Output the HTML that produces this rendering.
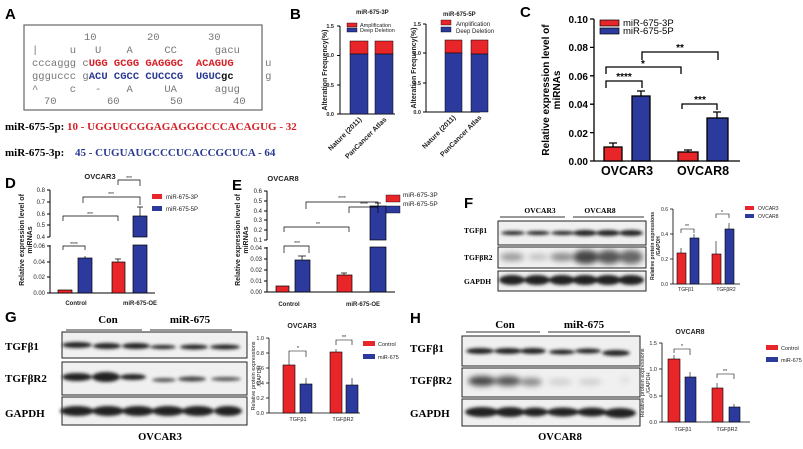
<!DOCTYPE html><html><head><meta charset="utf-8"><style>
body{margin:0;background:#fff}svg{display:block}
text{font-family:"Liberation Sans",sans-serif}
.m{font-family:"Liberation Mono",monospace;font-size:10.5px;fill:#777}
.s,.s text{font-family:"Liberation Serif",serif;font-weight:bold}
</style></head><body>
<svg width="803" height="449" viewBox="0 0 803 449" xmlns="http://www.w3.org/2000/svg">
<defs><filter id="b" x="-20%" y="-100%" width="140%" height="300%"><feGaussianBlur stdDeviation="1.6"/></filter>
<filter id="b2" x="-20%" y="-100%" width="140%" height="300%"><feGaussianBlur stdDeviation="3"/></filter></defs>
<g font-weight="bold" font-size="15">
<text x="5" y="19">A</text><text x="290" y="19">B</text><text x="520" y="17">C</text>
<text x="5" y="188">D</text><text x="232" y="190">E</text><text x="464" y="208">F</text>
<text x="5" y="322">G</text><text x="410" y="323">H</text></g>
<!-- A -->
<rect x="24" y="25" width="238" height="85" fill="none" stroke="#666" stroke-width="1.2"/>
<text class="m" x="84" y="40">10</text><text class="m" x="147" y="40">20</text><text class="m" x="208" y="40">30</text>
<text class="m" x="32" y="53" xml:space="preserve">|     u   U    A     CC      gacu</text>
<text class="m" x="32" y="66" xml:space="preserve">cccaggg c<tspan fill="#d62027" font-weight="bold">UGG GCGG GAGGGC  ACAGUG</tspan>     u</text>
<text class="m" x="32" y="79" xml:space="preserve">ggguccc g<tspan fill="#2b3990" font-weight="bold">ACU CGCC CUCCCG  UGUC</tspan><tspan fill="#111" font-weight="bold">gc</tspan>     g</text>
<text class="m" x="32" y="92" xml:space="preserve">^     c   -    A     UA      agug</text>
<text class="m" x="44" y="104" xml:space="preserve">70        60        50        40</text>
<text class="s" x="5" y="130" font-size="11">miR-675-5p:</text>
<text class="s" x="67" y="130" font-size="11" fill="#d62027">10 - UGGUGCGGAGAGGGCCCACAGUG - 32</text>
<text class="s" x="5" y="156" font-size="11">miR-675-3p:</text>
<text class="s" x="75" y="156" font-size="11" fill="#2b3990">45 - CUGUAUGCCCUCACCGCUCA - 64</text>
<!-- B1 -->
<g font-size="5.5" fill="#222">
<text x="356" y="14" font-weight="bold" font-size="6">miR-675-3P</text>
<path d="M340 26V114H395M337 26H340M337 55.5H340M337 85H340M337 114H340" stroke="#000" fill="none"/>
<text x="334" y="28" text-anchor="end" font-weight="bold">1.5</text><text x="334" y="57" text-anchor="end" font-weight="bold">1.0</text><text x="334" y="87" text-anchor="end" font-weight="bold">0.5</text><text x="334" y="116" text-anchor="end" font-weight="bold">0.0</text>
<text transform="translate(327,70) rotate(-90)" text-anchor="middle" font-size="7" font-weight="bold">Alteration Frequency(%)</text>
<rect x="347" y="23" width="10" height="4" fill="#e8262a" stroke="#000" stroke-width=".4"/><rect x="347" y="28" width="10" height="4" fill="#2b3a9c" stroke="#000" stroke-width=".4"/>
<text x="360" y="27">Amplification</text><text x="360" y="32">Deep Deletion</text>
<rect x="350" y="41" width="18" height="13" fill="#e8262a" stroke="#000" stroke-width=".5"/><rect x="350" y="54" width="18" height="60" fill="#2b3a9c" stroke="#000" stroke-width=".5"/>
<rect x="375" y="41" width="18" height="13" fill="#e8262a" stroke="#000" stroke-width=".5"/><rect x="375" y="54" width="18" height="60" fill="#2b3a9c" stroke="#000" stroke-width=".5"/>
<text transform="translate(362,120) rotate(-45)" text-anchor="end" font-size="7" font-weight="bold">Nature (2011)</text>
<text transform="translate(387,120) rotate(-45)" text-anchor="end" font-size="7" font-weight="bold">PanCancer Atlas</text>
</g>
<!-- B2 -->
<g font-size="5.5" fill="#222">
<text x="443" y="16" font-weight="bold" font-size="6">miR-675-5P</text>
<path d="M426 24V112H480M423 24H426M423 53H426M423 83H426M423 112H426" stroke="#000" fill="none"/>
<text x="421" y="26" text-anchor="end" font-weight="bold">1.5</text><text x="421" y="55" text-anchor="end" font-weight="bold">1.0</text><text x="421" y="85" text-anchor="end" font-weight="bold">0.5</text><text x="421" y="114" text-anchor="end" font-weight="bold">0.0</text>
<text transform="translate(416,68) rotate(-90)" text-anchor="middle" font-size="7" font-weight="bold">Alteration Frequency(%)</text>
<rect x="441" y="20" width="10" height="5" fill="#e8262a" stroke="#000" stroke-width=".4"/><rect x="441" y="27" width="10" height="5" fill="#2b3a9c" stroke="#000" stroke-width=".4"/>
<text x="456" y="26" font-size="6">Amplification</text><text x="456" y="33" font-size="6">Deep Deletion</text>
<rect x="445" y="40" width="17" height="13" fill="#e8262a" stroke="#000" stroke-width=".5"/><rect x="445" y="53" width="17" height="59" fill="#2b3a9c" stroke="#000" stroke-width=".5"/>
<rect x="471" y="40" width="17" height="14" fill="#e8262a" stroke="#000" stroke-width=".5"/><rect x="471" y="54" width="17" height="58" fill="#2b3a9c" stroke="#000" stroke-width=".5"/>
<text transform="translate(456,118) rotate(-45)" text-anchor="end" font-size="7" font-weight="bold">Nature (2011)</text>
<text transform="translate(482,118) rotate(-45)" text-anchor="end" font-size="7" font-weight="bold">PanCancer Atlas</text>
</g>
<!-- C -->
<g font-weight="bold" font-size="10">
<path d="M594 19V161H740M590 19H594M590 47.4H594M590 75.8H594M590 104.2H594M590 132.6H594M590 161H594" stroke="#000" stroke-width="1.3" fill="none"/>
<text x="588" y="23" text-anchor="end">0.10</text><text x="588" y="51" text-anchor="end">0.08</text><text x="588" y="80" text-anchor="end">0.06</text><text x="588" y="108" text-anchor="end">0.04</text><text x="588" y="137" text-anchor="end">0.02</text><text x="588" y="165" text-anchor="end">0.00</text>
<text transform="translate(549,90) rotate(-90)" text-anchor="middle" font-size="10">Relative expression level of</text>
<text transform="translate(560,90) rotate(-90)" text-anchor="middle" font-size="10">miRNAs</text>
<rect x="600" y="20" width="19" height="6" fill="#e8262a" stroke="#000" stroke-width=".7"/><rect x="600" y="28" width="19" height="6" fill="#2b3a9c" stroke="#000" stroke-width=".7"/>
<text x="623" y="26" font-weight="normal" font-size="9.5">miR-675-3P</text><text x="623" y="34" font-weight="normal" font-size="9.5">miR-675-5P</text>
<g stroke="#000" stroke-width="1.3" fill="none">
<rect x="604" y="147" width="18" height="14" fill="#e8262a"/><rect x="632" y="96" width="18" height="65" fill="#2b3a9c"/>
<rect x="678" y="152" width="20" height="9" fill="#e8262a"/><rect x="707" y="118" width="21" height="43" fill="#2b3a9c"/>
<path d="M613 147V143M609 143H617M641 96V91M637 91H645M688 152V150M684 150H692M717 118V112M713 112H721"/>
<path d="M606 88V81H642V88M606 74V67H681V74M642 60V52H718V60M682 109V104H717V110"/></g>
<text x="624" y="80" text-anchor="middle">****</text><text x="643" y="67" text-anchor="middle">*</text><text x="680" y="51" text-anchor="middle">**</text><text x="700" y="103" text-anchor="middle">***</text>
<text x="627" y="175" text-anchor="middle" font-size="12.5">OVCAR3</text><text x="703" y="175" text-anchor="middle" font-size="12.5">OVCAR8</text>
</g>
<!-- D -->
<g font-size="6" fill="#222">
<text x="100" y="179" text-anchor="middle" font-weight="bold" font-size="7.5">OVCAR3</text>
<path d="M50 190V237M50 245V293H155M47 190H50M47 202H50M47 214H50M47 225H50M47 237H50M47 246H50M47 262H50M47 277H50M47 293H50" stroke="#000" fill="none"/>
<g text-anchor="end"><text x="45" y="192">0.8</text><text x="45" y="204">0.7</text><text x="45" y="216">0.6</text><text x="45" y="227">0.5</text><text x="45" y="239">0.4</text><text x="45" y="248">0.06</text><text x="45" y="264">0.04</text><text x="45" y="279">0.02</text><text x="45" y="295">0.00</text></g>
<text transform="translate(24,240) rotate(-90)" text-anchor="middle" font-size="7" font-weight="bold">Relative expression level of</text>
<text transform="translate(32,240) rotate(-90)" text-anchor="middle" font-size="7" font-weight="bold">miRNAs</text>
<g stroke="#000" stroke-width=".7" fill="none">
<rect x="58" y="290" width="14" height="3" fill="#e8262a"/><rect x="78" y="258" width="14" height="35" fill="#2b3a9c"/>
<rect x="112" y="262" width="13" height="31" fill="#e8262a"/><rect x="133" y="245" width="14" height="48" fill="#2b3a9c"/><rect x="133" y="216" width="14" height="21" fill="#2b3a9c"/>
<path d="M85 258V256M118 262V259M115 259H121M140 216V207M137 207H143"/>
<path d="M63 250V246H85V250M63 221V216H118V221M83 203V197H140V205M118 185V180H140V186"/></g>
<g font-size="5"><text x="74" y="246" text-anchor="middle">****</text><text x="90" y="216" text-anchor="middle">***</text><text x="111" y="196" text-anchor="middle">***</text><text x="129" y="180" text-anchor="middle">***</text></g>
<rect x="152" y="194" width="10" height="5" fill="#e8262a"/><rect x="152" y="206" width="10" height="5" fill="#2b3a9c"/>
<text x="166" y="199">miR-675-3P</text><text x="166" y="211">miR-675-5P</text>
<text x="76" y="305" text-anchor="middle" font-weight="bold">Control</text><text x="140" y="305" text-anchor="middle" font-weight="bold">miR-675-OE</text>
</g>
<!-- E -->
<g font-size="6" fill="#222">
<text x="283" y="181" text-anchor="middle" font-weight="bold" font-size="7.5">OVCAR8</text>
<path d="M267 191V240M267 247V292H395M264 191H267M264 201H267M264 211H267M264 220H267M264 230H267M264 240H267M264 248H267M264 259H267M264 270H267M264 281H267M264 292H267" stroke="#000" fill="none"/>
<g text-anchor="end"><text x="262" y="193">0.6</text><text x="262" y="203">0.5</text><text x="262" y="213">0.4</text><text x="262" y="222">0.3</text><text x="262" y="232">0.2</text><text x="262" y="242">0.1</text><text x="262" y="250">0.04</text><text x="262" y="261">0.03</text><text x="262" y="272">0.02</text><text x="262" y="283">0.01</text><text x="262" y="294">0.00</text></g>
<text transform="translate(240,240) rotate(-90)" text-anchor="middle" font-size="7" font-weight="bold">Relative expression level of</text>
<text transform="translate(248,240) rotate(-90)" text-anchor="middle" font-size="7" font-weight="bold">miRNAs</text>
<g stroke="#000" stroke-width=".7" fill="none">
<rect x="276" y="286" width="13" height="6" fill="#e8262a"/><rect x="295" y="260" width="15" height="32" fill="#2b3a9c"/>
<rect x="337" y="275" width="15" height="17" fill="#e8262a"/><rect x="370" y="247" width="16" height="45" fill="#2b3a9c"/><rect x="370" y="206" width="16" height="34" fill="#2b3a9c"/>
<path d="M302 260V256M298 256H306M344 275V273M341 273H347M378 206V203M375 203H381"/>
<path d="M284 253V246H309V253M284 232V227H349V232M306 209V202H378V210M349 213V207H378V213"/></g>
<g font-size="5"><text x="297" y="245" text-anchor="middle">***</text><text x="318" y="226" text-anchor="middle">**</text><text x="342" y="200" text-anchor="middle">****</text><text x="364" y="206" text-anchor="middle">****</text></g>
<rect x="386" y="195" width="14" height="7" fill="#e8262a" stroke="#000" stroke-width=".4"/><rect x="386" y="206" width="14" height="7" fill="#2b3a9c" stroke="#000" stroke-width=".4"/>
<text x="403" y="197" font-size="6.5">miR-675-3P</text><text x="403" y="206" font-size="6.5">miR-675-5P</text>
<text x="289" y="306" text-anchor="middle" font-weight="bold">Control</text><text x="363" y="306" text-anchor="middle" font-weight="bold">miR-675-OE</text>
</g>
<!-- F blot -->
<g class="s" font-size="7.5">
<text x="540" y="213" text-anchor="middle">OVCAR3</text><text x="600" y="213" text-anchor="middle">OVCAR8</text>
<path d="M500 217H565M573 217H644" stroke="#333"/>
<text x="464" y="233">TGFβ1</text><text x="464" y="260">TGFβR2</text><text x="464" y="284">GAPDH</text></g>
<g stroke="#222" stroke-width="1" fill="#f0f0f0">
<rect x="498" y="221" width="148" height="24"/><rect x="498" y="247" width="148" height="21"/><rect x="498" y="271" width="148" height="20"/></g>
<g fill="#222" filter="url(#b)">
<ellipse cx="513" cy="233" rx="12" ry="2"/><ellipse cx="538" cy="233" rx="12" ry="2"/><ellipse cx="563" cy="233" rx="12" ry="2"/><ellipse cx="585" cy="233" rx="12" ry="3"/><ellipse cx="608" cy="233" rx="12" ry="3"/><ellipse cx="631" cy="233" rx="12" ry="3"/>
<ellipse cx="512" cy="280" rx="13" ry="5"/><ellipse cx="537" cy="280" rx="13" ry="5"/><ellipse cx="562" cy="280" rx="13" ry="5"/><ellipse cx="585" cy="280" rx="13" ry="5"/><ellipse cx="608" cy="280" rx="13" ry="5"/><ellipse cx="631" cy="280" rx="13" ry="5"/></g>
<g filter="url(#b2)"><ellipse cx="512" cy="257" rx="12" ry="4" fill="#999"/><ellipse cx="538" cy="257" rx="10" ry="3" fill="#bbb"/><ellipse cx="562" cy="257" rx="12" ry="4" fill="#888"/><ellipse cx="586" cy="257" rx="13" ry="7" fill="#444"/><ellipse cx="609" cy="257" rx="12" ry="7" fill="#555"/><ellipse cx="631" cy="257" rx="12" ry="7" fill="#666"/></g>
<!-- F chart -->
<g font-size="5" fill="#222">
<path d="M673 209V284H740M670 209H673M670 234H673M670 259H673M670 284H673" stroke="#000" stroke-width=".8" fill="none"/>
<text x="668" y="211" text-anchor="end">0.6</text><text x="668" y="236" text-anchor="end">0.4</text><text x="668" y="261" text-anchor="end">0.2</text><text x="668" y="286" text-anchor="end">0.0</text>
<text transform="translate(654,246) rotate(-90)" text-anchor="middle" font-weight="bold">Relative protein expressions</text><text transform="translate(660,246) rotate(-90)" text-anchor="middle" font-weight="bold">/GAPDH</text>
<g stroke="#000" stroke-width=".6"><rect x="677" y="253" width="9" height="31" fill="#e8262a"/><rect x="690" y="238" width="9" height="46" fill="#2b3a9c"/><rect x="712" y="254" width="9" height="30" fill="#e8262a"/><rect x="725" y="229" width="9" height="55" fill="#2b3a9c"/>
<path d="M681 253V248M694 238V234M716 254V241M729 229V223M681 233V229H694V233M716 218V214H729V218" fill="none"/></g>
<text x="687" y="228" text-anchor="middle">**</text><text x="722" y="214" text-anchor="middle">*</text>
<text x="686" y="291" text-anchor="middle">TGFβ1</text><text x="726" y="291" text-anchor="middle">TGFβR2</text>
<rect x="745" y="206" width="9" height="4" fill="#e8262a"/><rect x="745" y="214" width="9" height="4" fill="#2b3a9c"/>
<text x="758" y="210">OVCAR3</text><text x="758" y="218">OVCAR8</text></g>
<!-- G blot -->
<g class="s" font-size="11">
<text x="108" y="323" text-anchor="middle">Con</text><text x="190" y="323" text-anchor="middle">miR-675</text>
<path d="M66 330H142M150 330H232" stroke="#333"/>
<text x="5" y="350">TGFβ1</text><text x="5" y="382">TGFβR2</text><text x="5" y="417">GAPDH</text>
<text x="160" y="440" text-anchor="middle" font-size="10.5">OVCAR3</text></g>
<g stroke="#222" fill="#f0f0f0"><rect x="62" y="332" width="185" height="26"/><rect x="62" y="362" width="185" height="33"/><rect x="62" y="397" width="185" height="28"/></g>
<g fill="#222" filter="url(#b)">
<ellipse cx="77" cy="345" rx="15" ry="3"/><ellipse cx="107" cy="346" rx="14" ry="3"/><ellipse cx="136" cy="346" rx="14" ry="3"/><ellipse cx="163" cy="347" rx="13" ry="2"/><ellipse cx="194" cy="347" rx="14" ry="2.5"/><ellipse cx="225" cy="347" rx="15" ry="2.5"/>
<ellipse cx="77" cy="377" rx="15" ry="4"/><ellipse cx="106" cy="377" rx="14" ry="5"/><ellipse cx="133" cy="377" rx="13" ry="3"/><ellipse cx="164" cy="380" rx="12" ry="2" fill="#555"/><ellipse cx="192" cy="379" rx="14" ry="2.5" fill="#444"/><ellipse cx="226" cy="379" rx="15" ry="2" fill="#555"/>
<ellipse cx="77" cy="411" rx="17" ry="5"/><ellipse cx="108" cy="411" rx="16" ry="5"/><ellipse cx="138" cy="411" rx="16" ry="5"/><ellipse cx="168" cy="411" rx="16" ry="5"/><ellipse cx="198" cy="411" rx="16" ry="5"/><ellipse cx="228" cy="411" rx="14" ry="5"/></g>
<!-- G chart -->
<g font-size="5.5" fill="#222">
<text x="302" y="328" text-anchor="middle" font-weight="bold" font-size="7">OVCAR3</text>
<path d="M269 338V413H360M266 338H269M266 353H269M266 368H269M266 383H269M266 398H269M266 413H269" stroke="#000" stroke-width=".8" fill="none"/>
<g text-anchor="end"><text x="264" y="340">1.0</text><text x="264" y="355">0.8</text><text x="264" y="370">0.6</text><text x="264" y="385">0.4</text><text x="264" y="400">0.2</text><text x="264" y="415">0.0</text></g>
<text transform="translate(255,376) rotate(-90)" text-anchor="middle">Relative protein expressions</text><text transform="translate(261,376) rotate(-90)" text-anchor="middle">/GAPDH</text>
<g stroke="#000" stroke-width=".6"><rect x="283" y="365" width="12" height="48" fill="#e8262a"/><rect x="300" y="384" width="12" height="29" fill="#2b3a9c"/><rect x="330" y="352" width="12" height="61" fill="#e8262a"/><rect x="346" y="385" width="12" height="28" fill="#2b3a9c"/>
<path d="M289 365V357M306 384V378M336 352V349M352 385V378M289 357V351H306V357M336 345V340H352V345" fill="none"/></g>
<text x="298" y="350" text-anchor="middle">*</text><text x="344" y="339" text-anchor="middle">**</text>
<text x="298" y="421" text-anchor="middle">TGFβ1</text><text x="343" y="421" text-anchor="middle">TGFβR2</text>
<rect x="363" y="341" width="12" height="5" fill="#e8262a"/><rect x="363" y="354" width="12" height="5" fill="#2b3a9c"/>
<text x="378" y="346">Control</text><text x="378" y="359">miR-675</text></g>
<!-- H blot -->
<g class="s" font-size="11">
<text x="505" y="328" text-anchor="middle">Con</text><text x="584" y="328" text-anchor="middle">miR-675</text>
<path d="M466 332H540M548 332H630" stroke="#333"/>
<text x="410" y="352">TGFβ1</text><text x="410" y="384">TGFβR2</text><text x="410" y="417">GAPDH</text>
<text x="560" y="440" text-anchor="middle" font-size="10.5">OVCAR8</text></g>
<g stroke="#222" fill="#f0f0f0"><rect x="462" y="336" width="178" height="30"/><rect x="462" y="368" width="178" height="29"/><rect x="462" y="399" width="178" height="27"/></g>
<g fill="#222" filter="url(#b)">
<ellipse cx="480" cy="351" rx="14" ry="3"/><ellipse cx="508" cy="351" rx="14" ry="3"/><ellipse cx="533" cy="351" rx="13" ry="3"/><ellipse cx="562" cy="352" rx="13" ry="2.5"/><ellipse cx="588" cy="351" rx="13" ry="2.5"/><ellipse cx="616" cy="353" rx="14" ry="3"/>
<ellipse cx="482" cy="412" rx="17" ry="5"/><ellipse cx="510" cy="412" rx="15" ry="5"/><ellipse cx="535" cy="412" rx="13" ry="4.5"/><ellipse cx="563" cy="412" rx="16" ry="4.5"/><ellipse cx="592" cy="412" rx="15" ry="4.5"/><ellipse cx="620" cy="413" rx="16" ry="5"/></g>
<g filter="url(#b2)"><ellipse cx="482" cy="381" rx="14" ry="5" fill="#444"/><ellipse cx="508" cy="381" rx="13" ry="5" fill="#555"/><ellipse cx="531" cy="382" rx="11" ry="4" fill="#888"/><ellipse cx="560" cy="382" rx="12" ry="3" fill="#ccc"/><ellipse cx="590" cy="382" rx="12" ry="3" fill="#ccc"/><ellipse cx="625" cy="380" rx="5" ry="3" fill="#ddd"/></g>
<!-- H chart -->
<g font-size="5.5" fill="#222">
<text x="690" y="334" text-anchor="middle" font-weight="bold" font-size="7">OVCAR8</text>
<path d="M662 343V422H750M659 343H662M659 369H662M659 396H662M659 422H662" stroke="#000" stroke-width=".8" fill="none"/>
<g text-anchor="end"><text x="657" y="345">1.5</text><text x="657" y="371">1.0</text><text x="657" y="398">0.5</text><text x="657" y="424">0.0</text></g>
<text transform="translate(644,383) rotate(-90)" text-anchor="middle">Relative protein expressions</text><text transform="translate(650,383) rotate(-90)" text-anchor="middle">/GAPDH</text>
<g stroke="#000" stroke-width=".6"><rect x="668" y="359" width="12" height="63" fill="#e8262a"/><rect x="685" y="377" width="11" height="45" fill="#2b3a9c"/><rect x="712" y="388" width="11" height="34" fill="#e8262a"/><rect x="729" y="407" width="11" height="15" fill="#2b3a9c"/>
<path d="M674 359V355M690 377V372M717 388V383M734 407V404M674 353V349H690V355M717 378V374H734V379" fill="none"/></g>
<text x="682" y="348" text-anchor="middle">*</text><text x="725" y="373" text-anchor="middle">**</text>
<text x="683" y="431" text-anchor="middle">TGFβ1</text><text x="727" y="431" text-anchor="middle">TGFβR2</text>
<rect x="766" y="345" width="12" height="5" fill="#e8262a"/><rect x="766" y="357" width="12" height="5" fill="#2b3a9c"/>
<text x="781" y="350">Control</text><text x="781" y="362">miR-675</text></g>
</svg></body></html>
